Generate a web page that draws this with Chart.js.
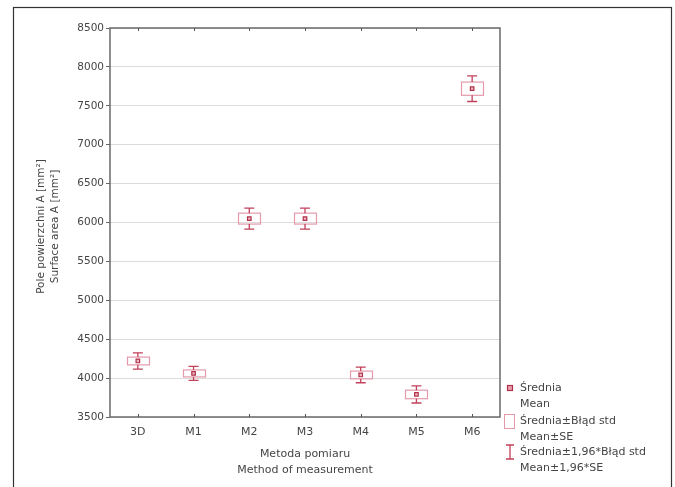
<!DOCTYPE html>
<html>
<head>
<meta charset="utf-8">
<script src="https://cdn.jsdelivr.net/npm/chart.js@4.4.1/dist/chart.umd.min.js"></script>
<style>
html,body{margin:0;padding:0;background:#fff;}
#wrap{width:675px;height:487px;position:relative;}
</style>
</head>
<body>
<div id="wrap"><canvas id="c" width="675" height="487"></canvas></div>
<script>
const categories = ['3D','M1','M2','M3','M4','M5','M6'];
const means = [4220, 4060, 6050, 6050, 4040, 3790, 7720];
const se    = [50, 45, 70, 70, 50, 55, 85];
const ci    = [105, 90, 135, 135, 100, 110, 165];
const yTicks = [3500, 4000, 4500, 5000, 5500, 6000, 6500, 7000, 7500, 8000, 8500];

const yTitleLines = ['Pole powierzchni A [mm²]', 'Surface area A [mm²]'];
const xTitleLines = ['Metoda pomiaru', 'Method of measurement'];
const legendItems = [
  ['Średnia', 'Mean'],
  ['Średnia±Błąd std', 'Mean±SE'],
  ['Średnia±1,96*Błąd std', 'Mean±1,96*SE']
];

const FONT = "'DejaVu Sans', 'Liberation Sans', Arial, sans-serif";
const TXT = '#454545';
const MEAN_C = '#b0304a';
const BOX_C = '#e49aaa';
const WHISK_C = '#c2405a';

const custom = {
  id: 'custom',
  beforeDraw(chart) {
    const ctx = chart.ctx;
    ctx.save();
    ctx.fillStyle = '#fff';
    ctx.fillRect(0, 0, chart.width, chart.height);
    ctx.restore();
  },
  beforeDatasetsDraw(chart) {
    const ctx = chart.ctx, xs = chart.scales.x, ys = chart.scales.y;
    ctx.save();
    categories.forEach((c, i) => {
      const x = xs.getPixelForValue(i);
      const m = means[i];
      const bt = ys.getPixelForValue(m + se[i]);
      const bb = ys.getPixelForValue(m - se[i]);
      ctx.strokeStyle = BOX_C;
      ctx.lineWidth = 1.2;
      ctx.strokeRect(Math.round(x - 11) + 0.5, bt, 22, bb - bt);
      const wt = ys.getPixelForValue(m + ci[i]);
      const wb = ys.getPixelForValue(m - ci[i]);
      ctx.strokeStyle = WHISK_C;
      ctx.lineWidth = 1.3;
      ctx.beginPath();
      ctx.moveTo(x, wt); ctx.lineTo(x, bt);
      ctx.moveTo(x, bb); ctx.lineTo(x, wb);
      ctx.moveTo(x - 5, wt); ctx.lineTo(x + 5, wt);
      ctx.moveTo(x - 5, wb); ctx.lineTo(x + 5, wb);
      ctx.stroke();
    });
    ctx.restore();
  },
  afterDraw(chart) {
    const ctx = chart.ctx, a = chart.chartArea, xs = chart.scales.x;
    ctx.save();
    ctx.strokeStyle = '#6a6a6a';
    ctx.lineWidth = 1.5;
    ctx.strokeRect(a.left, a.top, a.right - a.left, a.bottom - a.top);
    ctx.strokeStyle = '#555';
    ctx.lineWidth = 1;
    categories.forEach((c, i) => {
      const x = Math.round(xs.getPixelForValue(i)) + 0.5;
      ctx.beginPath();
      ctx.moveTo(x, a.top); ctx.lineTo(x, a.top + 3);
      ctx.moveTo(x, a.bottom); ctx.lineTo(x, a.bottom - 3);
      ctx.stroke();
    });
    ctx.strokeStyle = '#333';
    ctx.lineWidth = 1.2;
    ctx.strokeRect(13.5, 7.5, 658, 520);
    ctx.fillStyle = TXT;
    ctx.font = '10.5px ' + FONT;
    ctx.textAlign = 'center';
    ctx.textBaseline = 'middle';
    const cy = (a.top + a.bottom) / 2 + 4;
    ctx.save();
    ctx.translate(41, cy);
    ctx.rotate(-Math.PI / 2);
    ctx.fillText(yTitleLines[0], 0, 0);
    ctx.restore();
    ctx.save();
    ctx.translate(55, cy);
    ctx.rotate(-Math.PI / 2);
    ctx.fillText(yTitleLines[1], 0, 0);
    ctx.restore();
    ctx.font = '11px ' + FONT;
    const cx = (a.left + a.right) / 2;
    ctx.fillText(xTitleLines[0], cx, 454);
    ctx.fillText(xTitleLines[1], cx, 470);
    ctx.textAlign = 'left';
    ctx.font = '11px ' + FONT;
    const rows = [388, 421, 452];
    legendItems.forEach((it, k) => {
      const y = rows[k];
      ctx.fillStyle = TXT;
      ctx.fillText(it[0], 520, y);
      ctx.fillText(it[1], 520, y + 16);
      if (k === 0) {
        ctx.fillStyle = '#e8a0b0';
        ctx.fillRect(507.5, y - 2.5, 5, 5);
        ctx.strokeStyle = MEAN_C;
        ctx.lineWidth = 1.2;
        ctx.strokeRect(507.5, y - 2.5, 5, 5);
      } else if (k === 1) {
        ctx.strokeStyle = BOX_C;
        ctx.lineWidth = 1;
        ctx.strokeRect(504.5, y - 6.5, 10, 14);
      } else {
        ctx.strokeStyle = WHISK_C;
        ctx.lineWidth = 1.3;
        ctx.beginPath();
        ctx.moveTo(510, y - 7); ctx.lineTo(510, y + 7);
        ctx.moveTo(506, y - 7); ctx.lineTo(514, y - 7);
        ctx.moveTo(506, y + 7); ctx.lineTo(514, y + 7);
        ctx.stroke();
      }
    });
    ctx.restore();
  }
};

new Chart(document.getElementById('c'), {
  type: 'line',
  data: {
    labels: categories,
    datasets: [{
      label: 'Mean',
      data: means,
      showLine: false,
      pointStyle: 'rect',
      pointRadius: 2.5,
      pointBorderWidth: 1.2,
      pointBorderColor: MEAN_C,
      pointBackgroundColor: '#f0b8c4',
      borderColor: MEAN_C
    }]
  },
  options: {
    responsive: false,
    animation: false,
    devicePixelRatio: 1,
    layout: { padding: { left: 0, right: 175, top: 28, bottom: 0 } },
    plugins: { legend: { display: false }, tooltip: { enabled: false }, title: { display: false } },
    scales: {
      x: {
        type: 'category',
        offset: true,
        grid: { display: true, drawOnChartArea: false, tickLength: 0, color: '#555' },
        border: { display: false },
        ticks: { color: TXT, font: { family: FONT, size: 11 }, padding: 9 },
        afterFit(s) { s.height = 70; }
      },
      y: {
        min: 3500, max: 8500,
        afterBuildTicks(s) { s.ticks = yTicks.map(v => ({ value: v })); },
        grid: { color: '#dcdcdc', lineWidth: 1, tickLength: 4, tickColor: '#666' },
        border: { display: false },
        ticks: { color: TXT, font: { family: FONT, size: 10.5 }, padding: 2, callback: v => String(v) },
        afterFit(s) { s.width = 110; }
      }
    }
  },
  plugins: [custom]
});
</script>
</body>
</html>
